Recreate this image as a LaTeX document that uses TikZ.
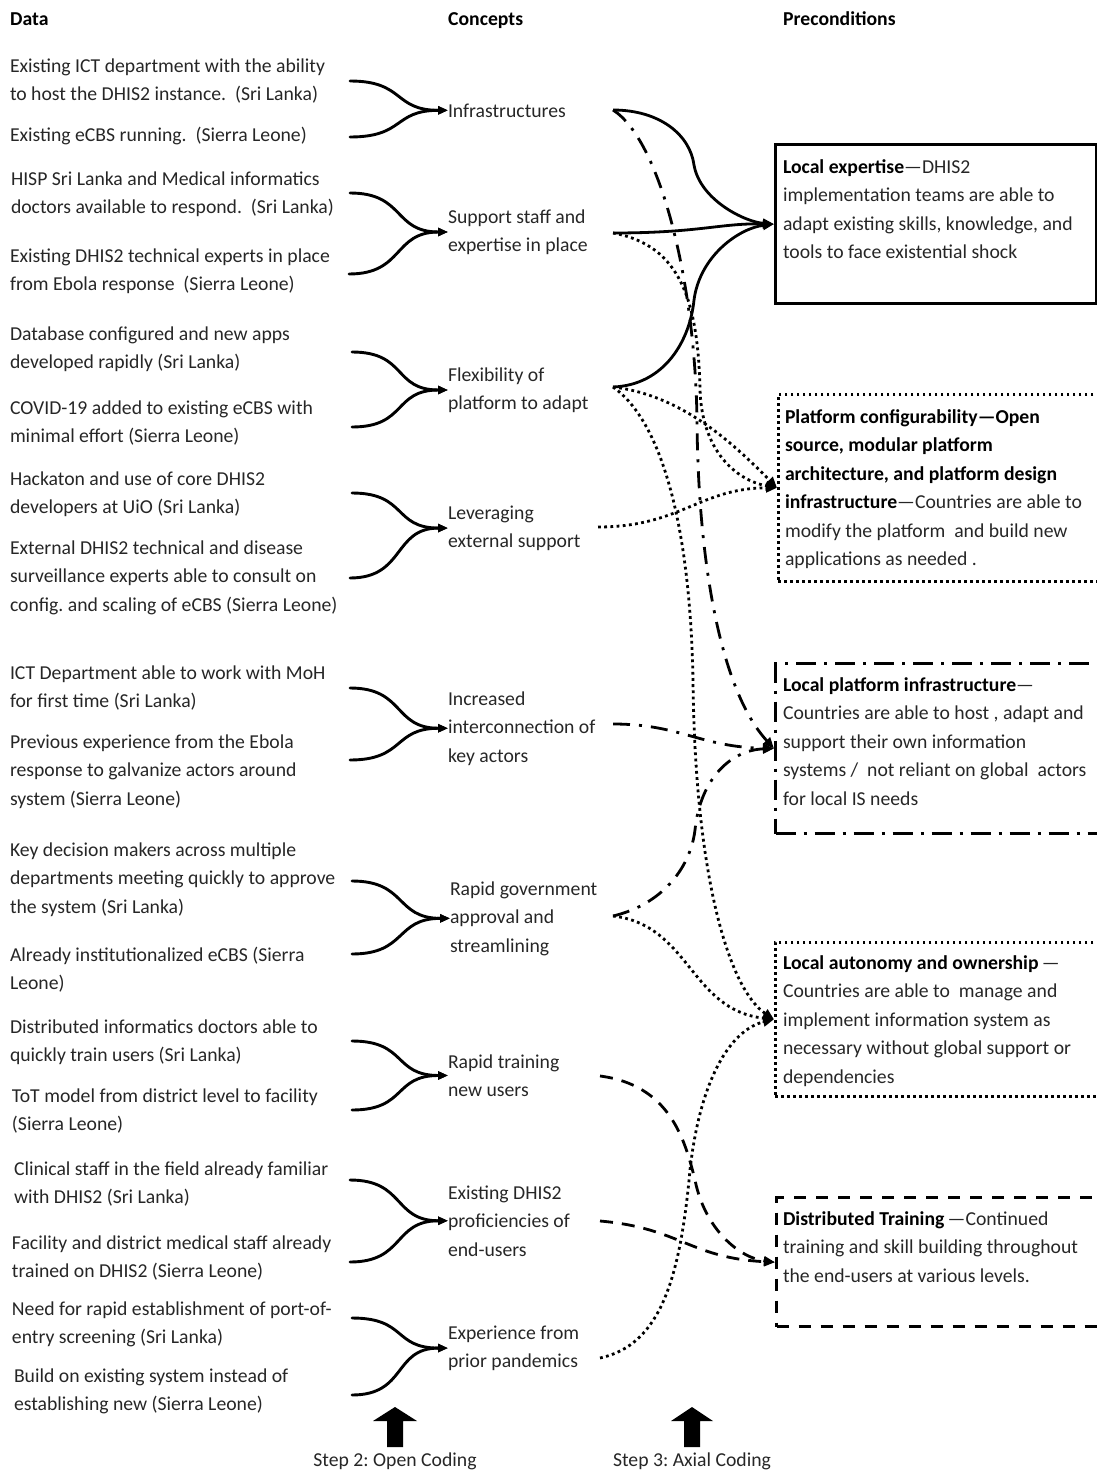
\documentclass[tikz,border=0pt]{standalone}
\usepackage{fontspec}
\setmainfont{Carlito}
\usetikzlibrary{arrows.meta}
\newcommand{\fsz}{\fontsize{19.7pt}{28.5pt}\selectfont\frenchspacing}
\tikzset{
  txt/.style={anchor=base west, inner sep=0pt, outer sep=0pt, align=left, font=\fsz, text=black!85},
  hdr/.style={anchor=base west, inner sep=0pt, font=\fsz\bfseries},
  steplabel/.style={anchor=base, inner sep=0pt, font=\fsz, text=black!85},
  brace/.style={line width=2.9pt, line cap=round, -{Triangle[length=10pt,width=8pt]}},
  rtip/.style={-{Triangle[length=11pt,width=9pt]}},
  solidc/.style={line width=2.8pt, rtip},
  ddc/.style={line width=2.8pt, dash pattern=on 17pt off 9pt on 3pt off 9pt, rtip},
  dotc/.style={line width=2.8pt, dash pattern=on 2.8pt off 3.4pt, rtip},
  dashc/.style={line width=2.8pt, dash pattern=on 13pt off 9pt, rtip},
  pbox/.style={anchor=north west, inner sep=0pt},
}
\begin{document}
\begin{tikzpicture}[x=1pt,y=-1pt]
\useasboundingbox (0,0) rectangle (1097,1472);

% headers
\node[hdr] (hdata) at (10,26) {Data};
\node[hdr] (hconc) at (448,26) {Concepts};
\node[hdr] (hpre) at (783,26) {Preconditions};

% data (positions are baselines of the last line)
\node[txt] (d1) at (10,100.5) {Existing ICT department with the ability\\to host the DHIS2 instance.~ (Sri Lanka)};
\node[txt] (d2) at (10,141) {Existing eCBS running.~ (Sierra Leone)};
\node[txt] (d3) at (11,213.5) {HISP Sri Lanka and Medical informatics\\doctors available to respond.~ (Sri Lanka)};
\node[txt] (d4) at (10,290.5) {Existing DHIS2 technical experts in place\\from Ebola response~ (Sierra Leone)};
\node[txt] (d5) at (10,368.5) {Database configured and new apps\\developed rapidly (Sri Lanka)};
\node[txt] (d6) at (10,442.5) {COVID-19 added to existing eCBS with\\minimal effort (Sierra Leone)};
\node[txt] (d7) at (10,513.5) {Hackaton and use of core DHIS2\\developers at UiO (Sri Lanka)};
\node[txt] (d8) at (10,611) {External DHIS2 technical and disease\\surveillance experts able to consult on\\config. and scaling of eCBS (Sierra Leone)};
\node[txt] (d9) at (10,707.5) {ICT Department able to work with MoH\\for first time (Sri Lanka)};
\node[txt] (d10) at (10,805) {Previous experience from the Ebola\\response to galvanize actors around\\system (Sierra Leone)};
\node[txt] (d11) at (10,913) {Key decision makers across multiple\\departments meeting quickly to approve\\the system (Sri Lanka)};
\node[txt] (d12) at (10,989.5) {Already institutionalized eCBS (Sierra\\Leone)};
\node[txt] (d13) at (10,1061.5) {Distributed informatics doctors able to\\quickly train users (Sri Lanka)};
\node[txt] (d14) at (12,1130.5) {ToT model from district level to facility\\(Sierra Leone)};
\node[txt] (d15) at (14,1203.5) {Clinical staff in the field already familiar\\with DHIS2 (Sri Lanka)};
\node[txt] (d16) at (12,1277.5) {Facility and district medical staff already\\trained on DHIS2 (Sierra Leone)};
\node[txt] (d17) at (12,1343.5) {Need for rapid establishment of port-of-\\entry screening (Sri Lanka)};
\node[txt] (d18) at (14,1410.5) {Build on existing system instead of\\establishing new (Sierra Leone)};

% concepts
\node[txt] (c1) at (448,117) {Infrastructures};
\node[txt] (c2) at (448,251.5) {Support staff and\\expertise in place};
\node[txt] (c3) at (448,409.5) {Flexibility of\\platform to adapt};
\node[txt] (c4) at (448,547.5) {Leveraging\\external support};
\node[txt] (c5) at (448,762) {Increased\\interconnection of\\key actors};
\node[txt] (c6) at (450,952) {Rapid government\\approval and\\streamlining};
\node[txt] (c7) at (448,1096.5) {Rapid training\\new users};
\node[txt] (c8) at (448,1256) {Existing DHIS2\\proficiencies of\\end-users};
\node[txt] (c9) at (448,1367.5) {Experience from\\prior pandemics};

% precondition boxes
\node[pbox, draw, line width=3.2pt, minimum width=321pt, minimum height=159pt] (pc1) at (774,143) {};
\node[pbox, draw, line width=2.6pt, dash pattern=on 2.6pt off 3.4pt, minimum width=322pt, minimum height=187pt] (pc2) at (777,393) {};
\node[pbox, draw, line width=3pt, dash pattern=on 20pt off 8pt on 3pt off 8pt, minimum width=325pt, minimum height=170pt] (pc3) at (774,662) {};
\node[pbox, draw, line width=2.6pt, dash pattern=on 2.6pt off 3.4pt, minimum width=325pt, minimum height=154pt] (pc4) at (774,941) {};
\node[pbox, draw, line width=3.4pt, dash pattern=on 12pt off 10pt, minimum width=324pt, minimum height=129pt] (pc5) at (775,1196) {};

\node[txt] (pt1) at (783,258.5) {\textbf{\color{black}Local expertise}—DHIS2\\implementation teams are able to\\adapt existing skills, knowledge, and\\tools to face existential shock};
\node[txt] (pt2) at (785,565.5) {\textbf{\color{black}Platform configurability—Open}\\\textbf{\color{black}source, modular platform}\\\textbf{\color{black}architecture, and platform design}\\\textbf{\color{black}infrastructure}—Countries are able to\\modify the platform~ and build new\\applications as needed .};
\node[txt] (pt3) at (783,805) {\textbf{\color{black}Local platform infrastructure}—\\Countries are able to host , adapt and\\support their own information\\systems /~ not reliant on global~ actors\\for local IS needs};
\node[txt] (pt4) at (783,1083) {\textbf{\color{black}Local autonomy and ownership}\,—\\Countries are able to~ manage and\\implement information system as\\necessary without global support or\\dependencies};
\node[txt] (pt5) at (783,1282) {\textbf{\color{black}Distributed Training}\,—Continued\\training and skill building throughout\\the end-users at various levels.};

% brace ends
\coordinate (b1t) at (350,81);   \coordinate (b1b) at (350,137);
\coordinate (b2t) at (350,193);  \coordinate (b2b) at (349,274);
\coordinate (b3t) at (352,352);  \coordinate (b3b) at (352,427);
\coordinate (b4t) at (352,493);  \coordinate (b4b) at (350,578);
\coordinate (b5t) at (350,688);  \coordinate (b5b) at (350,760);
\coordinate (b6t) at (352,881);  \coordinate (b6b) at (352,954);
\coordinate (b7t) at (352,1041); \coordinate (b7b) at (352,1110);
\coordinate (b8t) at (350,1180); \coordinate (b8b) at (350,1262);
\coordinate (b9t) at (352,1318); \coordinate (b9b) at (352,1395);

\foreach \i in {1,...,9}{
  \draw[brace] (b\i t) .. controls +(55,0) and +(-55,0) .. (c\i.west);
  \draw[brace] (b\i b) .. controls +(55,0) and +(-55,0) .. (c\i.west);
}

% connector starts
\coordinate (o1) at (613,110);
\coordinate (o2) at (613,233);
\coordinate (o3) at (613,387);
\coordinate (o4) at (598,527);
\coordinate (o5) at (613,724);
\coordinate (o6) at (613,916);
\coordinate (o7) at (600,1076);
\coordinate (o8) at (600,1221);
\coordinate (o9) at (600,1358);

% solid to local expertise
\draw[solidc] (o1) .. controls (660,110) and (690,135) .. (694,165) .. controls (700,200) and (745,222) .. (pc1.west);
\draw[solidc] (o2) .. controls (700,233) and (720,223) .. (pc1.west);
\draw[solidc] (o3) .. controls (665,385) and (690,340) .. (694,300) .. controls (700,255) and (740,228) .. (pc1.west);

% dash-dot to local platform infrastructure
\draw[ddc] (o1) .. controls (660,140) and (695,280) .. (697,420) .. controls (698,560) and (720,690) .. (pc3.west);
\draw[ddc] (o5) .. controls (680,724) and (700,747) .. (pc3.west);
\draw[ddc] (o6) .. controls (660,905) and (690,870) .. (695,830) .. controls (700,780) and (730,750) .. (pc3.west);

% dotted to platform configurability
\draw[dotc] (o2) .. controls (680,245) and (698,300) .. (700,390) .. controls (702,450) and (735,480) .. (pc2.west);
\draw[dotc] (o3) .. controls (680,395) and (730,440) .. (pc2.west);
\draw[dotc] (o4) .. controls (680,527) and (700,488) .. (pc2.west);

% dotted to local autonomy
\draw[dotc] (o3) .. controls (660,420) and (690,520) .. (693,680) .. controls (695,880) and (730,990) .. (pc4.west);
\draw[dotc] (o6) .. controls (690,925) and (690,1010) .. (pc4.west);
\draw[dotc] (o9) .. controls (660,1345) and (680,1280) .. (690,1170) .. controls (700,1080) and (730,1030) .. (pc4.west);

% dashed to distributed training
\draw[dashc] (o7) .. controls (670,1085) and (685,1140) .. (695,1180) .. controls (705,1230) and (740,1258) .. (pc5.west);
\draw[dashc] (o8) .. controls (680,1228) and (690,1258) .. (pc5.west);

% step arrows
\fill (395,1407) -- (417,1421) -- (403,1421) -- (403,1447) -- (387,1447) -- (387,1421) -- (373,1421) -- cycle;
\fill (692,1407) -- (713,1421) -- (700,1421) -- (700,1447) -- (684,1447) -- (684,1421) -- (671,1421) -- cycle;
\node[steplabel] (s2) at (395,1466) {Step 2: Open Coding};
\node[steplabel] (s3) at (692,1466) {Step 3: Axial Coding};
\end{tikzpicture}
\end{document}
